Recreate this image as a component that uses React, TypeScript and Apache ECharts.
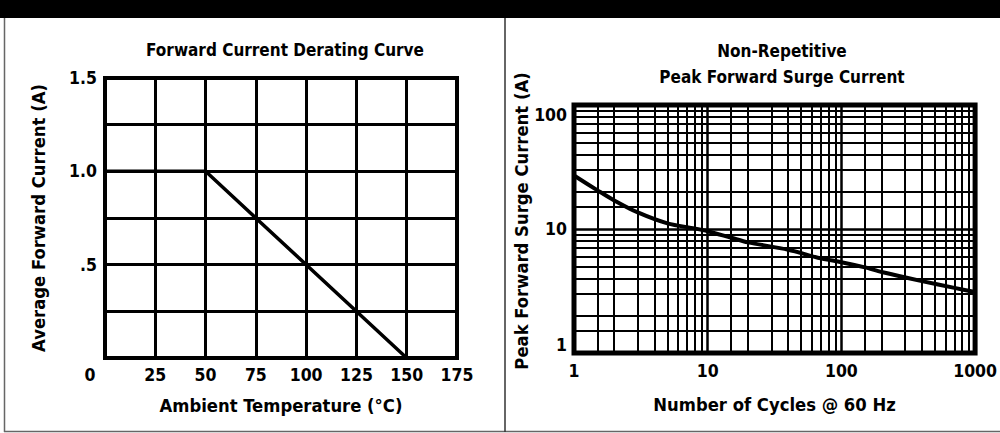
import React, { useEffect, useRef } from "react";
import * as echarts from "echarts";

// ---- data ----
const tempTicksMin = 0;
const tempTicksMax = 175;
const tempInterval = 25;
const derateTemp = [0, 50, 150];
const derateAmps = [1.0, 1.0, 0];

const ampMin = 0;
const ampMax = 1.5;
const ampInterval = 0.25;

const surgeCycles = [1, 1.5, 2, 3, 5, 8, 10, 15, 20, 40, 70, 100, 150, 200, 400, 700, 1000];
const surgeAmps = [27, 20.5, 17, 13.6, 11.1, 10.1, 9.6, 8.5, 7.8, 6.8, 5.8, 5.4, 4.9, 4.5, 3.8, 3.35, 3.1];

const logMinor = [1.5, 2, 3, 4, 5, 6, 7, 8, 9];
const xDecades = [1, 10, 100];
const yDecades = [1, 10];

const FONT = "'DejaVu Sans Condensed', 'Liberation Sans Narrow', sans-serif";

export default function App() {
  const ref = useRef<HTMLDivElement>(null);
  useEffect(() => {
    document.body.style.margin = "0";
    const chart = echarts.init(ref.current!, null, { renderer: "svg" });

    const xGridVals: number[] = [];
    xDecades.forEach((d) => logMinor.forEach((m) => xGridVals.push(d * m)));
    const yGridVals: number[] = [];
    yDecades.forEach((d) => logMinor.forEach((m) => yGridVals.push(d * m)));

    const tick = { color: "#000", fontFamily: FONT, fontWeight: "bold" as const, fontSize: 17.5 };
    const nameStyle = { color: "#000", fontFamily: FONT, fontWeight: "bold" as const, fontSize: 18.3 };
    const titleStyle = { color: "#000", fontFamily: FONT, fontWeight: "bold" as const, fontSize: 17 };

    const option: any = {
      animation: false,
      backgroundColor: "#fff",
      title: [
        {
          text: "Forward Current Derating Curve",
          left: 280,
          top: 36,
          textAlign: "center",
          textStyle: titleStyle,
        },
        {
          text: "Non-Repetitive\nPeak Forward Surge Current",
          left: 777,
          top: 33,
          textAlign: "center",
          textStyle: { ...titleStyle, lineHeight: 26 },
        },
      ],
      graphic: [
        { type: "rect", shape: { x: 0, y: 0, width: 1000, height: 18 }, style: { fill: "#000" } },
        { type: "line", shape: { x1: 4.5, y1: 18, x2: 4.5, y2: 432 }, style: { stroke: "#666", lineWidth: 1.5 } },
        { type: "line", shape: { x1: 4, y1: 431.5, x2: 1000, y2: 431.5 }, style: { stroke: "#666", lineWidth: 1.5 } },
        { type: "line", shape: { x1: 505, y1: 18, x2: 505, y2: 432 }, style: { stroke: "#333", lineWidth: 1.5 } },
      ],
      grid: [
        { left: 105, top: 78, width: 352, height: 280, show: true, borderColor: "#000", borderWidth: 4, backgroundColor: "transparent", z: 3 },
        { left: 574, top: 105, width: 412, height: 248, show: true, borderColor: "#000", borderWidth: 5, backgroundColor: "transparent", z: 3 },
      ],
      xAxis: [
        {
          type: "value",
          gridIndex: 0,
          min: tempTicksMin,
          max: tempTicksMax,
          interval: tempInterval,
          axisLine: { show: false },
          axisTick: { show: false },
          splitLine: { show: true, lineStyle: { color: "#000", width: 3 } },
          axisLabel: {
            ...tick,
            margin: 8,
            formatter: (v: number) => (v === 0 ? "{z|0}" : String(v)),
            rich: { z: { ...tick, padding: [0, 30, 0, 0] } },
          },
          name: "Ambient Temperature (°C)",
          nameLocation: "middle",
          nameGap: 38,
          nameTextStyle: nameStyle,
        },
        {
          type: "log",
          gridIndex: 1,
          logBase: 10,
          min: 1,
          max: 1000,
          axisLine: { show: false },
          axisTick: { show: false },
          splitLine: { show: true, lineStyle: { color: "#000", width: 2.5 } },
          axisLabel: { ...tick, margin: 9, formatter: (v: number) => String(v) },
          name: "Number of Cycles @ 60 Hz",
          nameLocation: "middle",
          nameGap: 42,
          nameTextStyle: nameStyle,
        },
      ],
      yAxis: [
        {
          type: "value",
          gridIndex: 0,
          min: ampMin,
          max: ampMax,
          interval: ampInterval,
          axisLine: { show: false },
          axisTick: { show: false },
          splitLine: { show: true, lineStyle: { color: "#000", width: 3 } },
          axisLabel: {
            ...tick,
            margin: 8,
            formatter: (v: number) => (v === 1.5 ? "1.5" : v === 1 ? "1.0" : v === 0.5 ? ".5" : ""),
          },
          name: "Average Forward Current (A)",
          nameLocation: "middle",
          nameGap: 58,
          nameTextStyle: nameStyle,
        },
        {
          type: "log",
          gridIndex: 1,
          logBase: 10,
          min: 1,
          max: 100,
          axisLine: { show: false },
          axisTick: { show: false },
          splitLine: { show: true, lineStyle: { color: "#000", width: 2.5 } },
          axisLabel: {
            ...tick,
            margin: 7,
            formatter: (v: number) => (v === 100 ? "{t|100}" : v === 1 ? "{b|1}" : String(v)),
            rich: { t: { ...tick, padding: [20, 0, 0, 0] }, b: { ...tick, padding: [0, 0, 16, 0] } },
          },
          name: "Peak Forward Surge Current (A)",
          nameLocation: "middle",
          nameGap: 25,
          nameTextStyle: { ...nameStyle, padding: [0, 0, 0, 16] },
        },
      ],
      series: [
        {
          type: "line",
          xAxisIndex: 0,
          yAxisIndex: 0,
          data: derateTemp.map((t, i) => [t, derateAmps[i]]),
          symbol: "none",
          lineStyle: { color: "#000", width: 3.5 },
          z: 5,
        },
        {
          type: "line",
          xAxisIndex: 1,
          yAxisIndex: 1,
          data: [],
          symbol: "none",
          z: 2,
          markLine: {
            silent: true,
            symbol: ["none", "none"],
            label: { show: false },
            lineStyle: { color: "#000", width: 2, type: "solid" },
            data: [
              ...xGridVals.map((v) => ({ xAxis: v })),
              ...yGridVals.map((v) => ({ yAxis: v })),
            ],
          },
        },
        {
          type: "line",
          xAxisIndex: 1,
          yAxisIndex: 1,
          data: surgeCycles.map((c, i) => [c, surgeAmps[i]]),
          symbol: "none",
          smooth: 0.3,
          lineStyle: { color: "#000", width: 4 },
          z: 5,
        },
      ],
    };
    chart.setOption(option);
    return () => chart.dispose();
  }, []);
  return <div ref={ref} style={{ width: 1000, height: 433 }} />;
}
